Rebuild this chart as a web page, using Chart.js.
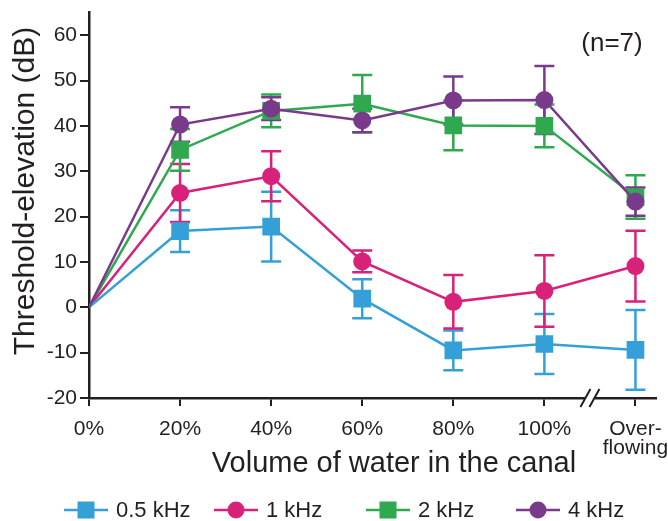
<!DOCTYPE html>
<html>
<head>
<meta charset="utf-8">
<script src="https://cdn.jsdelivr.net/npm/chart.js@4"></script>
<style>
  body { margin: 0; background: #fff; }
  canvas { display: block; }
</style>
</head>
<body>
<canvas id="chart" width="668" height="521"></canvas>
<script>
// Data
const categories = ['0%', '20%', '40%', '60%', '80%', '100%', ['Over-', 'flowing']];
const yTicks = [-20, -10, 0, 10, 20, 30, 40, 50, 60];

const khz05 = [0, 16.8, 17.8, 1.9, -9.5, -8.1, -9.4];
const khz05Err = [0, 4.6, 7.7, 4.3, 4.4, 6.6, 8.8];
const khz1 = [0, 25.2, 28.9, 10.1, 1.2, 3.6, 9.1];
const khz1Err = [0, 6.4, 5.5, 2.4, 5.9, 7.9, 7.8];
const khz2 = [0, 34.7, 43.3, 44.9, 40.1, 40.0, 24.3];
const khz2Err = [0, 4.6, 3.6, 6.3, 5.5, 4.7, 4.8];
const khz4 = [0, 40.3, 43.8, 41.2, 45.6, 45.7, 23.3];
const khz4Err = [0, 3.8, 2.5, 2.6, 5.3, 7.5, 3.1];

const ink = '#231f20';
const font = 'Liberation Sans, Arial, sans-serif';

function series(label, vals, errs, color, shape, order) {
  return {
    label: label,
    data: vals.map((v, i) => ({ x: i, y: v })),
    err: errs,
    borderColor: color,
    backgroundColor: color,
    borderWidth: 2.5,
    pointStyle: shape,
    pointRadius: shape === 'rect' ? 12.5 : 9,
    pointBorderWidth: 0,
    pointBackgroundColor: (ctx) => ctx.dataIndex === 0 ? 'rgba(0,0,0,0)' : color,
    tension: 0,
    order: order
  };
}

// error bars, drawn under the lines
const errorBars = {
  id: 'errorBars',
  beforeDatasetsDraw(chart) {
    const c = chart.ctx;
    const ys = chart.scales.y;
    chart.data.datasets.forEach((ds, di) => {
      const meta = chart.getDatasetMeta(di);
      c.save();
      c.strokeStyle = ds.borderColor;
      c.lineWidth = 2.5;
      meta.data.forEach((pt, i) => {
        const e = ds.err[i];
        if (!e) return;
        const v = ds.data[i].y;
        const top = ys.getPixelForValue(v + e);
        const bot = ys.getPixelForValue(v - e);
        c.beginPath();
        c.moveTo(pt.x, top); c.lineTo(pt.x, bot);
        c.moveTo(pt.x - 10, top); c.lineTo(pt.x + 10, top);
        c.moveTo(pt.x - 10, bot); c.lineTo(pt.x + 10, bot);
        c.stroke();
      });
      c.restore();
    });
  }
};

// titles, axis break, n label and legend
const decorations = {
  id: 'decorations',
  afterDraw(chart) {
    const c = chart.ctx;
    const xs = chart.scales.x;
    const area = chart.chartArea;
    c.save();

    // axis break between 100% and overflowing
    const bx = xs.getPixelForValue(5.5);
    const by = area.bottom;
    c.fillStyle = '#fff';
    c.fillRect(bx - 5, by - 3, 10, 6);
    c.strokeStyle = ink;
    c.lineWidth = 2;
    [-4.5, 4.5].forEach(off => {
      c.beginPath();
      c.moveTo(bx + off - 5, by + 9);
      c.lineTo(bx + off + 5, by - 9);
      c.stroke();
    });

    c.fillStyle = ink;
    c.textAlign = 'center';
    c.textBaseline = 'middle';
    c.font = '29px ' + font;
    c.fillText('Volume of water in the canal', 394, 464);

    c.save();
    c.translate(26, 191);
    c.rotate(-Math.PI / 2);
    c.font = '30px ' + font;
    c.fillText('Threshold-elevation (dB)', 0, 0);
    c.restore();

    c.font = '26px ' + font;
    c.fillText('(n=7)', 612, 44);

    // legend
    const starts = [64, 214, 366, 516];
    const ly = 510;
    c.font = '22px ' + font;
    c.textAlign = 'left';
    chart.data.datasets.forEach((ds, i) => {
      const x0 = starts[i];
      c.strokeStyle = ds.borderColor;
      c.lineWidth = 2.5;
      c.beginPath();
      c.moveTo(x0, ly); c.lineTo(x0 + 44, ly);
      c.stroke();
      c.fillStyle = ds.borderColor;
      if (ds.pointStyle === 'rect') {
        c.fillRect(x0 + 22 - 8.5, ly - 8.5, 17, 17);
      } else {
        c.beginPath();
        c.arc(x0 + 22, ly, 8.5, 0, Math.PI * 2);
        c.fill();
      }
      c.fillStyle = ink;
      c.fillText(ds.label, x0 + 52, ly + 1);
    });
    c.restore();
  }
};

new Chart(document.getElementById('chart'), {
  type: 'line',
  data: {
    datasets: [
      series('0.5 kHz', khz05, khz05Err, '#35a0d7', 'rect', 1),
      series('1 kHz', khz1, khz1Err, '#d8227a', 'circle', 2),
      series('2 kHz', khz2, khz2Err, '#2fa84f', 'rect', 3),
      series('4 kHz', khz4, khz4Err, '#7a3a8c', 'circle', 0)
    ]
  },
  options: {
    responsive: false,
    animation: false,
    layout: { padding: { top: 12, right: 0, left: 0, bottom: 0 } },
    plugins: { legend: { display: false }, tooltip: { enabled: false } },
    scales: {
      x: {
        type: 'linear',
        min: 0,
        max: 6.22,
        afterFit: (s) => { s.height = 123; s.paddingLeft = 0; s.paddingRight = 0; },
        afterBuildTicks: (s) => { s.ticks = categories.map((c, i) => ({ value: i })); },
        ticks: {
          autoSkip: false,
          maxRotation: 0,
          padding: 14,
          color: ink,
          font: { family: font, size: 21, lineHeight: 0.88 },
          callback: (v) => categories[v]
        },
        grid: { drawOnChartArea: false, drawTicks: true, tickLength: 8, color: ink, lineWidth: 2 },
        border: { color: ink, width: 2.5 }
      },
      y: {
        min: -20,
        max: 65,
        afterFit: (s) => { s.width = 89; s.paddingTop = 0; s.paddingBottom = 0; },
        afterBuildTicks: (s) => { s.ticks = yTicks.map(v => ({ value: v })); },
        ticks: {
          padding: 3,
          color: ink,
          font: { family: font, size: 21 }
        },
        grid: { drawOnChartArea: false, drawTicks: true, tickLength: 9, color: ink, lineWidth: 2 },
        border: { color: ink, width: 2.5 }
      }
    }
  },
  plugins: [errorBars, decorations]
});
</script>
</body>
</html>
